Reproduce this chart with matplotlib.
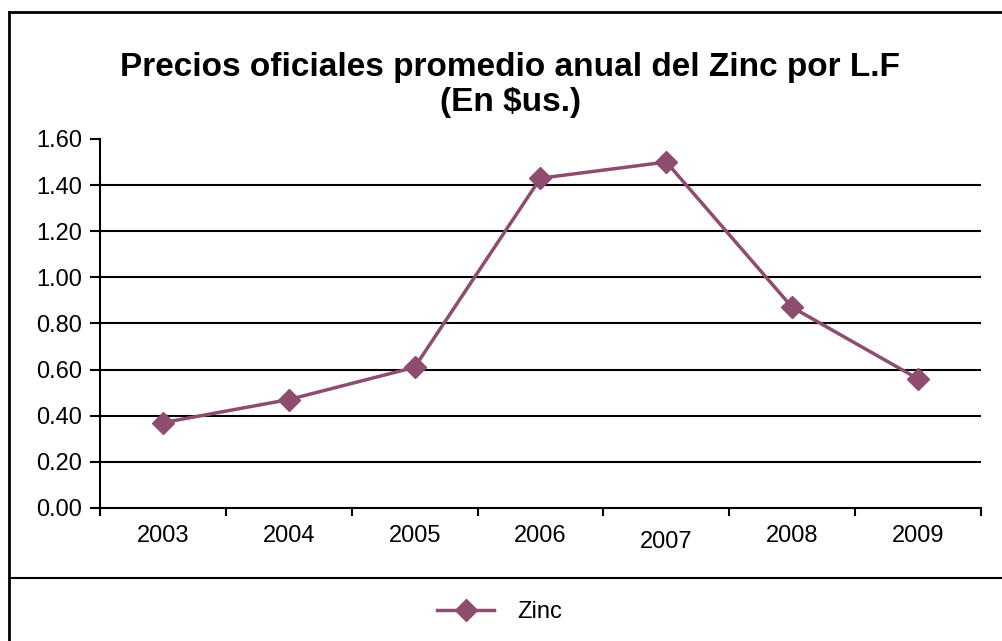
import matplotlib
matplotlib.use("Agg")
import matplotlib.pyplot as plt
from matplotlib.lines import Line2D
from matplotlib.transforms import ScaledTranslation
import numpy as np

# ── Data ──────────────────────────────────────────────────────────────────────
years = ["2003", "2004", "2005", "2006", "2007", "2008", "2009"]
zinc = [0.37, 0.47, 0.61, 1.43, 1.50, 0.87, 0.56]
yticks = [0.0, 0.2, 0.4, 0.6, 0.8, 1.0, 1.2, 1.4, 1.6]

# ── Style ─────────────────────────────────────────────────────────────────────
LINE = "#8e4d6f"
FONT = "Liberation Sans"
plt.rcParams["font.family"] = [FONT, "DejaVu Sans"]

fig = plt.figure(figsize=(10.02, 6.41), dpi=100, facecolor="white")
ax = fig.add_axes([0.0998, 0.2075, 0.8792, 0.5757])

xs = np.arange(len(years))
ax.plot(xs, zinc, color=LINE, linewidth=2.5, marker="D", markersize=11.5,
        markerfacecolor=LINE, markeredgecolor=LINE, zorder=3)

ax.set_xlim(-0.5, len(years) - 0.5)
ax.set_ylim(0, 1.6)
ax.set_yticks(yticks)
ax.set_yticklabels([f"{v:.2f}" for v in yticks], fontsize=17)
ax.set_xticks(xs)
ax.set_xticklabels(years, fontsize=17)
ax.set_xticks(np.arange(len(years) + 1) - 0.5, minor=True)
ax.tick_params(axis="x", which="major", length=0, pad=12)
ax.tick_params(axis="x", which="minor", length=6, width=1.5, direction="out")
ax.tick_params(axis="y", length=7, width=1.5, direction="out", pad=6)

# the 2007 label sits a little lower in the source
lbl = ax.get_xticklabels()[4]
lbl.set_transform(lbl.get_transform() + ScaledTranslation(0, -0.06, fig.dpi_scale_trans))

for v in yticks[1:-1]:
    ax.axhline(v, color="black", linewidth=1.5, zorder=1)

for s in ["top", "right"]:
    ax.spines[s].set_visible(False)
for s in ["left", "bottom"]:
    ax.spines[s].set_linewidth(1.5)

fig.text(0.509, 0.894, "Precios oficiales promedio anual del Zinc por L.F",
         ha="center", va="center", fontsize=24, fontweight="bold")
fig.text(0.509, 0.840, "(En $us.)", ha="center", va="center",
         fontsize=24, fontweight="bold")

# outer frame and legend separator
fig.add_artist(Line2D([0.009, 1.0], [1 - 12 / 641, 1 - 12 / 641],
                      color="black", linewidth=2, transform=fig.transFigure))
fig.add_artist(Line2D([0.009, 0.009], [0, 1 - 12 / 641],
                      color="black", linewidth=2, transform=fig.transFigure))
fig.add_artist(Line2D([0.009, 1.0], [1 - 578 / 641, 1 - 578 / 641],
                      color="black", linewidth=1.5, transform=fig.transFigure))

handle = Line2D([], [], color=LINE, linewidth=2.5, marker="D", markersize=11.5,
                markerfacecolor=LINE, markeredgecolor=LINE)
fig.legend([handle], ["Zinc"], loc="center", bbox_to_anchor=(0.499, 1 - 612 / 641),
           frameon=False, fontsize=17, handlelength=2.4, handletextpad=1.0)

fig.savefig("out.png", dpi=100, facecolor="white")
